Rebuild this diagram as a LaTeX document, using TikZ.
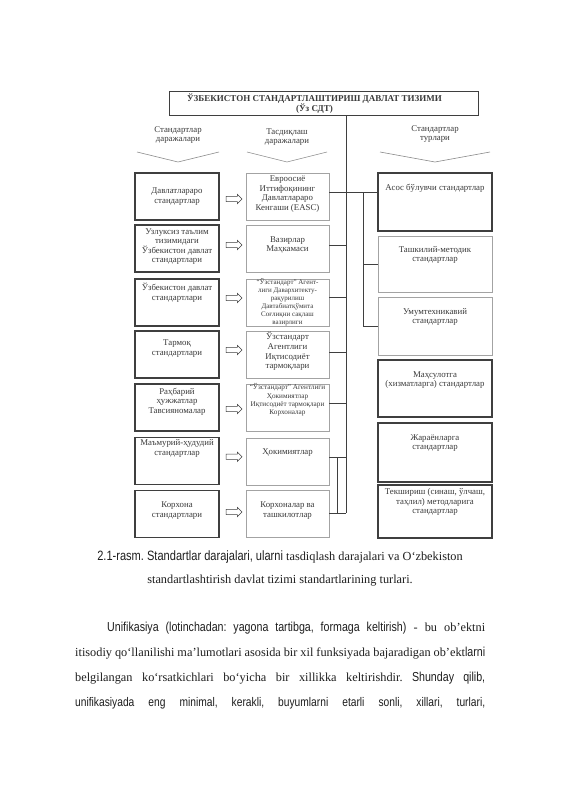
\documentclass[tikz,border=0pt]{standalone}
\usepackage{fontspec}
\setmainfont{Liberation Serif}
\newfontfamily\narrowsf[FakeStretch=0.82]{Liberation Sans}
\usepackage{xcolor}
\usetikzlibrary{positioning,shapes,arrows,calc}

\definecolor{inkgray}{HTML}{3A3A3A}
\definecolor{framedark}{HTML}{3F3F3F}
\definecolor{framelight}{HTML}{A3A3A3}
\definecolor{chevgray}{HTML}{8C8C8C}
\definecolor{pagetext}{HTML}{1E1E1E}

\begin{document}
\frenchspacing
\begin{tikzpicture}[x=1pt, y=-1pt,
        every node/.style = {inner sep=0pt},
        txt/.style = {align=center, text=inkgray, font=\fontsize{8.8}{9.6}\selectfont},
        smalltxt/.style = {align=center, text=inkgray, font=\fontsize{7}{8}\selectfont},
        hardbox/.style = {draw=framedark, line width=1.5pt},
        softbox/.style = {draw=framelight, line width=0.7pt},
        lcol/.style = {hardbox, minimum width=84pt, minimum height=47pt},
        mcol/.style = {softbox, minimum width=83pt, minimum height=47pt},
        rcol/.style = {minimum width=114pt},
        conn/.style = {draw=framedark, line width=0.8pt},
        chev/.style = {draw=chevgray, line width=0.6pt},
        dblarr/.style = {single arrow, draw=framedark, fill=white, line width=0.5pt,
            text height=2.4pt, text depth=2.4pt,
            minimum height=16pt, single arrow head extend=2pt},
        pagetxt/.style = {text=pagetext, font=\fontsize{12.3}{14}\selectfont}]

    \useasboundingbox[fill=white] (0,0) rectangle (565,800);

    % title of the system
    \node[draw=framedark, line width=0.9pt, minimum width=309pt, minimum height=24pt,
        label={[txt, font=\bfseries\fontsize{9}{10.5}\selectfont, xshift=-9pt]center:{ЎЗБЕКИСТОН СТАНДАРТЛАШТИРИШ ДАВЛАТ ТИЗИМИ\\(Ўз СДТ)}}]
        (sdt) at (323.5,103.5) {};

    % column headers
    \node[txt] (hdar) at (178,135) {Стандартлар\\даражалари};
    \node[txt] (htas) at (287,137) {Тасдиқлаш\\даражалари};
    \node[txt] (htur) at (435,134) {Стандартлар\\турлари};
    \foreach \x/\w in {178/41, 287/40, 435/55}
        \draw[chev] (\x-\w,152) -- (\x,162) -- (\x+\w,152);

    % levels of standards
    \node[lcol, label={[txt]center:{Давлатлараро\\стандартлар}}] (l1) at (177,196.5) {};
    \node[lcol, label={[txt, yshift=2pt]center:{Узлуксиз таълим\\тизимидаги\\Ўзбекистон давлат\\стандартлари}}] (l2) at (177,248.5) {};
    \node[lcol, label={[txt, yshift=9.5pt]center:{Ўзбекистон давлат\\стандартлари}}] (l3) at (177,302.5) {};
    \node[lcol, label={[txt, yshift=6pt]center:{Тармоқ\\стандартлари}}] (l4) at (177,354.5) {};
    \node[lcol, label={[txt, yshift=6pt]center:{Раҳбарий\\ҳужжатлар\\Тавсияномалар}}] (l5) at (177,407.5) {};
    \node[lcol, label={[txt, yshift=12.5pt]center:{Маъмурий-ҳудудий\\стандартлар}}] (l6) at (177,461) {};
    \node[lcol, label={[txt, yshift=3.5pt]center:{Корхона\\стандартлари}}] (l7) at (177,514) {};

    % levels of approval
    \node[mcol, label={[txt, yshift=2.5pt]center:{Евроосиё\\Иттифоқининг\\Давлатлараро\\Кенгаши (EASC)}}] (m1) at (287.5,196.5) {};
    \node[mcol, label={[txt, yshift=3.5pt]center:{Вазирлар\\Маҳкамаси}}] (m2) at (287.5,248.5) {};
    \node[mcol, label={[smalltxt]center:{“Ўзстандарт” Агент-\\лиги Давархитекту-\\рақурилиш\\Давтабиатқўмита\\Соғлиқни сақлаш\\вазирлиги}}] (m3) at (287.5,302.5) {};
    \node[mcol, label={[txt, yshift=3pt]center:{Ўзстандарт\\Агентлиги\\Иқтисодиёт\\тармоқлари}}] (m4) at (287.5,354.5) {};
    \node[mcol, label={[smalltxt, font=\fontsize{7.2}{8.3}\selectfont, yshift=7.5pt]center:{“Ўзстандарт” Агентлиги\\Ҳокимиятлар\\Иқтисодиёт тармоқлари\\Корхоналар}}] (m5) at (287.5,407.5) {};
    \node[mcol, label={[txt, yshift=8.5pt]center:{Ҳокимиятлар}}] (m6) at (287.5,461.5) {};
    \node[mcol, label={[txt, yshift=3.5pt]center:{Корхоналар ва\\ташкилотлар}}] (m7) at (287.5,514) {};

    % kinds of standards
    \node[rcol, hardbox, minimum height=58pt, label={[txt, yshift=14pt]center:{Асос бўлувчи стандартлар}}] (r1) at (435,202) {};
    \node[rcol, softbox, minimum height=56pt, label={[txt, yshift=9pt]center:{Ташкилий-методик\\стандартлар}}] (r2) at (435,264) {};
    \node[rcol, softbox, minimum height=58pt, label={[txt, yshift=9pt]center:{Умумтехникавий\\стандартлар}}] (r3) at (435,326) {};
    \node[rcol, hardbox, minimum height=57pt, label={[txt, yshift=8.5pt]center:{Маҳсулотга\\(хизматларга) стандартлар}}] (r4) at (435,388.5) {};
    \node[rcol, hardbox, minimum height=59pt, label={[txt, yshift=9.5pt]center:{Жараёнларга\\стандартлар}}] (r5) at (435,452.5) {};
    \node[rcol, hardbox, minimum height=53pt, label={[txt, yshift=9.5pt]center:{Текшириш (синаш, ўлчаш,\\таҳлил) методларига\\стандартлар}}] (r6) at (435,511.5) {};

    % arrows from levels to approval
    \foreach \i/\dy in {1/-2.5, 2/3.5, 3/4.5, 4/4.5, 5/-1.5, 6/4.5, 7/2}
        \node[dblarr] (a\i) at ([yshift=\dy pt]$(l\i.east)!0.5!(m\i.west)$) {};

    % connectors
    \coordinate (spine) at (346,513);
    \coordinate (fork) at (363,192);
    \coordinate (kink) at (337,457.5);
    \draw[conn] (sdt.south -| spine) -- (spine);
    \draw[conn] ([yshift=4.5pt]m1.east) -- ([yshift=4.5pt]m1.east -| r1.west);
    \draw[conn] (fork) |- (r3.west);
    \draw[conn] (fork |- r2.west) -- (r2.west);
    \foreach \i/\dy in {2/3.5, 3/5.5, 4/2.5, 5/4.5, 6/4, 7/1}
        \draw[conn] ([yshift=\dy pt]m\i.east) -- ([yshift=\dy pt]m\i.east -| spine);
    \draw[conn] (kink) -- (kink |- spine);

    % caption
    \node[pagetxt, anchor=base] (cap1) at (280,560)
        {{\narrowsf\fontsize{13.5}{15}\selectfont 2.1-rasm. Standartlar darajalari, ularni} tasdiqlash darajalari va O‘zbekiston};
    \node[pagetxt, anchor=base] (cap2) at (280,583)
        {standartlashtirish davlat tizimi standartlarining turlari.};

    % running text
    \node[pagetxt, anchor=base west] (par1) at (107,631)
        {\makebox[378pt][s]{{\narrowsf\fontsize{13}{15}\selectfont Unifikasiya (lotinchadan: yagona tartibga, formaga keltirish)} - bu ob’ektni}};
    \node[pagetxt, anchor=base west] (par2) at (75,656)
        {\makebox[410pt][s]{itisodiy qo‘llanilishi ma’lumotlari asosida bir xil funksiyada bajaradigan ob’ekt{\narrowsf\fontsize{13}{15}\selectfont larni}}};
    \node[pagetxt, anchor=base west] (par3) at (75,681)
        {\makebox[410pt][s]{belgilangan ko‘rsatkichlari bo‘yicha bir xillikka keltirishdir. {\narrowsf\fontsize{13}{15}\selectfont Shunday qilib,}}};
    \node[pagetxt, anchor=base west] (par4) at (75,706)
        {\makebox[410pt][s]{\narrowsf\fontsize{12.5}{15}\selectfont unifikasiyada eng minimal, kerakli, buyumlarni etarli sonli, xillari, turlari,}};
\end{tikzpicture}
\end{document}
